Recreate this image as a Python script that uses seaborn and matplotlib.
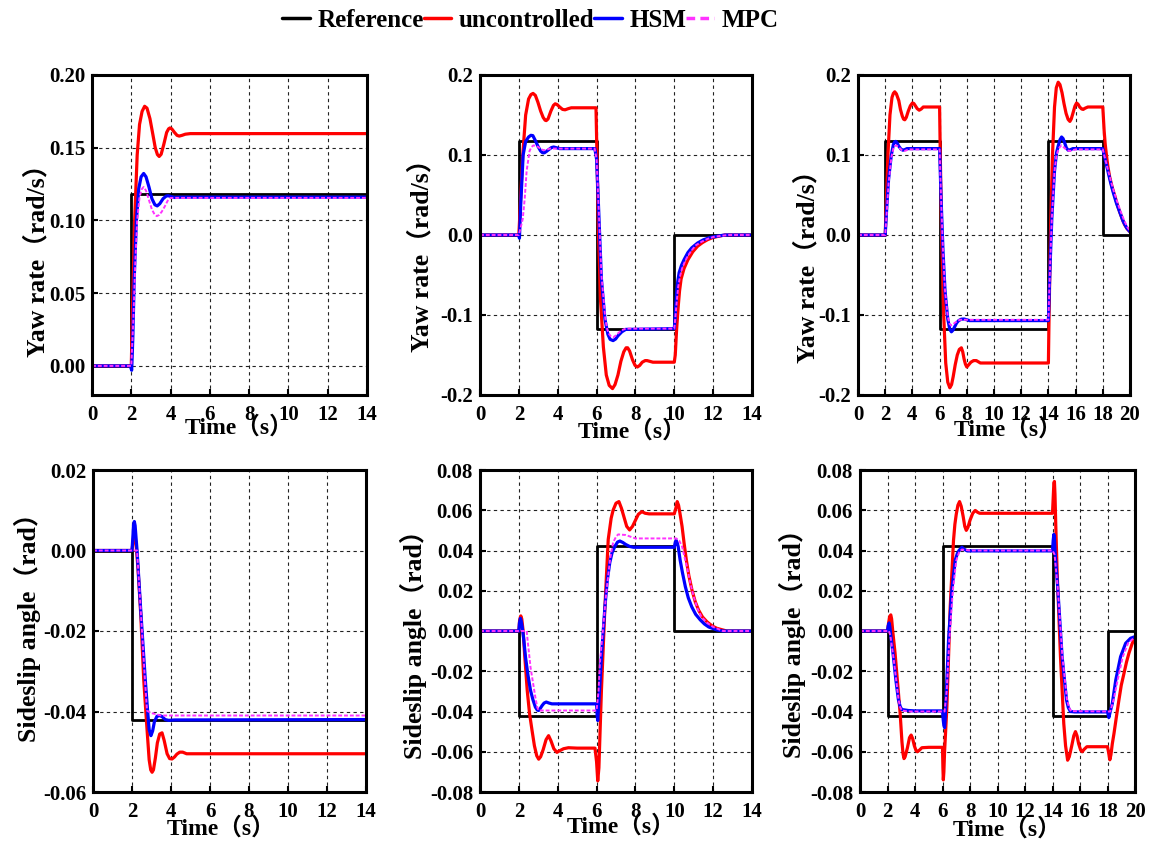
import matplotlib
matplotlib.use("Agg")
import matplotlib.pyplot as plt
from matplotlib.lines import Line2D
from matplotlib.ticker import FormatStrFormatter
import pandas as pd
import seaborn as sns

# ---------------- data (time [s], value) ----------------
SERIES = ["Reference", "uncontrolled", "HSM", "MPC"]

# Panel A: yaw rate, single step
YAW_A_REF = [(0, 0), (2, 0), (2, 0.118), (14, 0.118)]
YAW_A_UNC = [(0, 0), (2.0, 0), (2.08, 0.05), (2.17, 0.10), (2.3, 0.145), (2.42, 0.166), (2.55, 0.175),
             (2.68, 0.1785), (2.8, 0.1772), (2.95, 0.170), (3.1, 0.159), (3.22, 0.150), (3.33, 0.1453),
             (3.42, 0.144), (3.52, 0.1455), (3.65, 0.152), (3.8, 0.1605), (3.9, 0.163), (3.97, 0.1636),
             (4.06, 0.163), (4.2, 0.1605), (4.33, 0.1585), (4.44, 0.158), (4.58, 0.1585), (4.75, 0.1593),
             (5.0, 0.1597), (14, 0.1597)]
YAW_A_HSM = [(0, 0), (1.95, 0), (2.02, -0.003), (2.08, 0.02), (2.15, 0.06), (2.26, 0.10), (2.38, 0.122),
             (2.5, 0.130), (2.63, 0.1323), (2.75, 0.130), (2.9, 0.123), (3.05, 0.115), (3.2, 0.1108),
             (3.32, 0.110), (3.45, 0.1115), (3.62, 0.115), (3.78, 0.1168), (3.88, 0.117), (4.0, 0.1165),
             (4.2, 0.1158), (4.5, 0.116), (14, 0.116)]
YAW_A_MPC = [(0, 0), (2.0, 0), (2.1, 0.03), (2.2, 0.07), (2.3, 0.10), (2.42, 0.116), (2.53, 0.1215),
             (2.63, 0.123), (2.75, 0.1205), (2.9, 0.114), (3.05, 0.1075), (3.2, 0.1038), (3.3, 0.103),
             (3.42, 0.1038), (3.55, 0.106), (3.7, 0.1095), (3.85, 0.1135), (4.0, 0.1155), (14, 0.1155)]

# Panel B: yaw rate, single lane change
YAW_B_REF = [(0, 0), (2, 0), (2, 0.118), (6, 0.118), (6, -0.118), (10, -0.118), (10, 0), (14, 0)]
YAW_B_UNC = [(0, 0), (2, 0), (2.1, 0.05), (2.2, 0.10), (2.35, 0.15), (2.5, 0.17), (2.62, 0.1755),
             (2.73, 0.177), (2.85, 0.1745), (2.98, 0.166), (3.12, 0.155), (3.25, 0.147), (3.35, 0.1435),
             (3.41, 0.143), (3.5, 0.145), (3.65, 0.155), (3.78, 0.162), (3.87, 0.164), (3.97, 0.163),
             (4.1, 0.160), (4.25, 0.157), (4.38, 0.1565), (4.55, 0.158), (4.7, 0.159), (5.97, 0.159),
             (6.02, 0.10), (6.1, 0.0), (6.2, -0.08), (6.35, -0.14), (6.5, -0.175), (6.65, -0.188),
             (6.82, -0.192), (6.95, -0.187), (7.1, -0.175), (7.25, -0.158), (7.4, -0.146), (7.52, -0.141),
             (7.6, -0.141), (7.7, -0.145), (7.85, -0.156), (7.98, -0.163), (8.1, -0.165), (8.22, -0.163),
             (8.35, -0.159), (8.5, -0.157), (8.6, -0.157), (8.75, -0.158), (8.9, -0.159), (10.0, -0.159),
             (10.05, -0.15), (10.12, -0.118), (10.2, -0.09), (10.27, -0.07), (10.35, -0.055), (10.5, -0.042),
             (10.7, -0.031), (10.95, -0.021), (11.2, -0.014), (11.45, -0.0095), (11.7, -0.006),
             (11.95, -0.0035), (12.2, -0.002), (12.6, 0), (14, 0)]
YAW_B_HSM = [(0, 0), (2, 0), (2.03, -0.004), (2.1, 0.04), (2.22, 0.10), (2.35, 0.117), (2.5, 0.1225),
             (2.62, 0.1246), (2.72, 0.1242), (2.85, 0.118), (2.98, 0.111), (3.12, 0.105), (3.22, 0.1028),
             (3.31, 0.1027), (3.42, 0.1045), (3.55, 0.107), (3.68, 0.1093), (3.79, 0.110), (3.92, 0.1092),
             (4.1, 0.108), (5.91, 0.108), (6.0, 0.095), (6.08, 0.048), (6.25, -0.055), (6.43, -0.105),
             (6.58, -0.124), (6.7, -0.1305), (6.85, -0.132), (6.98, -0.130), (7.1, -0.126), (7.3, -0.121),
             (7.5, -0.118), (10.0, -0.117), (10.03, -0.108), (10.07, -0.09), (10.12, -0.072), (10.18, -0.058),
             (10.25, -0.047), (10.37, -0.038), (10.5, -0.031), (10.7, -0.022), (10.9, -0.016), (11.2, -0.010),
             (11.5, -0.006), (11.85, -0.003), (12.2, -0.0015), (12.6, 0), (14, 0)]
YAW_B_MPC = [(0, 0), (2.0, 0), (2.2, 0.02), (2.3, 0.045), (2.4, 0.08), (2.55, 0.105), (2.65, 0.110),
             (2.75, 0.112), (2.87, 0.1115), (3.0, 0.110), (3.15, 0.107), (3.3, 0.106), (3.45, 0.1068),
             (3.6, 0.108), (5.9, 0.108), (6.0, 0.095), (6.08, 0.05), (6.25, -0.05), (6.45, -0.105),
             (6.55, -0.118), (6.65, -0.124), (6.75, -0.127), (6.85, -0.128), (6.97, -0.126), (7.1, -0.123),
             (7.3, -0.119), (7.5, -0.117), (10.0, -0.117), (10.05, -0.105), (10.1, -0.09), (10.2, -0.065),
             (10.3, -0.051), (10.4, -0.042), (10.55, -0.033), (10.7, -0.026), (10.9, -0.019), (11.1, -0.013),
             (11.4, -0.0085), (11.7, -0.005), (12.0, -0.0025), (12.4, -0.001), (12.8, 0), (14, 0)]

# Panel C: yaw rate, double lane change
YAW_C_REF = [(0, 0), (2, 0), (2, 0.118), (6, 0.118), (6, -0.118), (14, -0.118), (14, 0.118), (18, 0.118),
             (18, 0), (20, 0)]
YAW_C_UNC = [(0, 0), (2, 0), (2.1, 0.05), (2.2, 0.1), (2.35, 0.15), (2.5, 0.172), (2.6, 0.177), (2.7, 0.179),
             (2.82, 0.1765), (3.0, 0.168), (3.12, 0.157), (3.25, 0.149), (3.35, 0.1448), (3.44, 0.144),
             (3.55, 0.147), (3.7, 0.155), (3.85, 0.1615), (4.0, 0.165), (4.1, 0.1645), (4.2, 0.162),
             (4.35, 0.158), (4.5, 0.156), (4.65, 0.1575), (4.8, 0.16), (6.0, 0.16), (6.05, 0.1), (6.15, 0.0),
             (6.3, -0.1), (6.45, -0.16), (6.6, -0.184), (6.75, -0.191), (6.88, -0.187), (7.0, -0.177),
             (7.15, -0.162), (7.3, -0.15), (7.45, -0.143), (7.6, -0.141), (7.7, -0.146), (7.8, -0.155),
             (7.9, -0.1615), (8.0, -0.165), (8.15, -0.162), (8.3, -0.159), (8.5, -0.157), (8.7, -0.157),
             (9.0, -0.16), (14.0, -0.16), (14.05, -0.10), (14.15, 0.0), (14.3, 0.1), (14.45, 0.16),
             (14.58, 0.184), (14.72, 0.191), (14.85, 0.188), (15.0, 0.178), (15.15, 0.164), (15.3, 0.152),
             (15.45, 0.1445), (15.58, 0.142), (15.68, 0.145), (15.8, 0.152), (15.95, 0.161), (16.07, 0.165),
             (16.18, 0.1635), (16.3, 0.160), (16.45, 0.1575), (16.56, 0.157), (16.7, 0.1585), (16.9, 0.16),
             (18.0, 0.16), (18.05, 0.145), (18.1, 0.13), (18.18, 0.113), (18.28, 0.098), (18.38, 0.085),
             (18.5, 0.073), (18.7, 0.059), (18.9, 0.048), (19.08, 0.037), (19.26, 0.028), (19.43, 0.02),
             (19.6, 0.013), (19.8, 0.0075), (20.0, 0.004)]
YAW_C_HSM = [(0, 0), (2, 0), (2.1, 0.03), (2.25, 0.07), (2.45, 0.10), (2.6, 0.113), (2.7, 0.1165),
             (2.77, 0.117), (2.88, 0.115), (3.0, 0.111), (3.15, 0.1075), (3.3, 0.106), (3.45, 0.1068),
             (3.6, 0.108), (6.0, 0.108), (6.1, 0.05), (6.25, -0.02), (6.4, -0.07), (6.6, -0.105),
             (6.75, -0.118), (6.87, -0.121), (6.98, -0.119), (7.1, -0.115), (7.25, -0.110), (7.4, -0.107),
             (7.6, -0.1052), (7.8, -0.105), (8.2, -0.107), (14.0, -0.107), (14.1, -0.05), (14.25, 0.02),
             (14.45, 0.08), (14.6, 0.103), (14.7, 0.11), (14.85, 0.119), (14.97, 0.1225), (15.08, 0.1205),
             (15.2, 0.115), (15.32, 0.109), (15.45, 0.106), (15.6, 0.1065), (15.8, 0.108), (18.0, 0.108),
             (18.1, 0.1), (18.25, 0.089), (18.4, 0.078), (18.58, 0.065), (18.77, 0.053), (19.0, 0.04),
             (19.26, 0.028), (19.5, 0.017), (19.75, 0.009), (20.0, 0.004)]
YAW_C_MPC = [(0, 0), (2, 0), (2.1, 0.025), (2.25, 0.065), (2.45, 0.097), (2.6, 0.108), (2.7, 0.111),
             (2.8, 0.112), (2.95, 0.1105), (3.1, 0.108), (3.25, 0.1058), (3.4, 0.105), (3.55, 0.1058),
             (3.7, 0.107), (6.0, 0.107), (6.1, 0.05), (6.25, -0.02), (6.4, -0.07), (6.6, -0.102),
             (6.73, -0.111), (6.85, -0.113), (6.97, -0.112), (7.1, -0.11), (7.3, -0.1075), (7.5, -0.106),
             (14.0, -0.106), (14.1, -0.05), (14.25, 0.02), (14.45, 0.08), (14.6, 0.1), (14.7, 0.105),
             (14.82, 0.1095), (14.95, 0.112), (15.1, 0.110), (15.3, 0.107), (15.45, 0.1055), (15.6, 0.105),
             (16.0, 0.107), (18.0, 0.107), (18.1, 0.1), (18.25, 0.09), (18.4, 0.08), (18.6, 0.067),
             (18.8, 0.055), (19.05, 0.042), (19.3, 0.03), (19.55, 0.019), (19.8, 0.01), (20, 0.005)]

# Panel D: sideslip angle, single step
BETA_D_REF = [(0, 0), (2, 0), (2, -0.042), (14, -0.042)]
BETA_D_UNC = [(0, 0), (2.0, 0), (2.1, 0.004), (2.2, 0.002), (2.3, -0.004), (2.45, -0.016), (2.6, -0.032),
              (2.75, -0.043), (2.88, -0.052), (2.96, -0.0545), (3.03, -0.0551), (3.1, -0.0545), (3.2, -0.0515),
              (3.3, -0.0478), (3.42, -0.0456), (3.54, -0.0453), (3.65, -0.0472), (3.8, -0.0505),
              (3.93, -0.0517), (4.05, -0.0518), (4.18, -0.0513), (4.3, -0.0506), (4.45, -0.0501),
              (4.6, -0.0501), (4.8, -0.0505), (14, -0.0505)]
BETA_D_HSM = [(0, 0), (2.0, 0), (2.04, 0.003), (2.08, 0.0065), (2.12, 0.0072), (2.16, 0.0062), (2.21, 0.003),
              (2.26, 0.0), (2.45, -0.015), (2.68, -0.032), (2.8, -0.0398), (2.88, -0.0445), (2.97, -0.046),
              (3.06, -0.0448), (3.15, -0.0425), (3.28, -0.0412), (3.42, -0.041), (3.55, -0.0413),
              (3.7, -0.042), (3.88, -0.0422), (4.2, -0.0421), (14, -0.042)]
BETA_D_MPC = [(0, 0), (2.26, 0), (2.45, -0.015), (2.65, -0.031), (2.77, -0.0398), (3.0, -0.0404),
              (3.5, -0.041), (14, -0.041)]

# Panel E: sideslip angle, single lane change
BETA_E_REF = [(0, 0), (2, 0), (2, -0.042), (6, -0.042), (6, 0.042), (10, 0.042), (10, 0), (14, 0)]
BETA_E_UNC = [(0, 0), (2.0, 0), (2.04, 0.0055), (2.1, 0.0075), (2.15, 0.006), (2.22, 0.0), (2.3, -0.012),
              (2.43, -0.0295), (2.55, -0.041), (2.68, -0.0495), (2.8, -0.057), (2.92, -0.062), (3.02, -0.0637),
              (3.12, -0.0625), (3.25, -0.059), (3.4, -0.054), (3.53, -0.052), (3.65, -0.0545), (3.8, -0.0585),
              (3.96, -0.0603), (4.1, -0.0595), (4.3, -0.0585), (4.55, -0.058), (5.0, -0.0582), (5.92, -0.0582),
              (6.0, -0.065), (6.06, -0.0745), (6.12, -0.068), (6.18, -0.05), (6.25, -0.0295), (6.43, 0.012),
              (6.6, 0.0455), (6.75, 0.056), (6.85, 0.06), (7.0, 0.0635), (7.15, 0.0643), (7.28, 0.061),
              (7.4, 0.057), (7.55, 0.052), (7.7, 0.0502), (7.85, 0.052), (8.0, 0.055), (8.15, 0.058),
              (8.33, 0.0593), (8.5, 0.0585), (8.7, 0.0582), (10.0, 0.0582), (10.08, 0.061), (10.15, 0.0643),
              (10.22, 0.0625), (10.3, 0.058), (10.4, 0.052), (10.5, 0.044), (10.62, 0.0353), (10.75, 0.0275),
              (10.91, 0.0204), (11.08, 0.0145), (11.25, 0.0104), (11.45, 0.007), (11.68, 0.0046),
              (11.95, 0.0025), (12.2, 0.0013), (12.7, 0), (14, 0)]
BETA_E_HSM = [(0, 0), (2.0, 0), (2.03, 0.004), (2.08, 0.0063), (2.12, 0.005), (2.18, 0.0015), (2.25, -0.004),
              (2.34, -0.0128), (2.47, -0.022), (2.6, -0.0295), (2.72, -0.034), (2.85, -0.0378), (2.95, -0.0393),
              (3.02, -0.0395), (3.1, -0.0385), (3.2, -0.037), (3.3, -0.0358), (3.41, -0.0353), (3.55, -0.0358),
              (3.7, -0.0362), (6.0, -0.0362), (6.03, -0.042), (6.06, -0.0445), (6.12, -0.035), (6.25, -0.0128),
              (6.43, 0.012), (6.55, 0.025), (6.68, 0.034), (6.8, 0.039), (6.94, 0.042), (7.08, 0.0442),
              (7.2, 0.0447), (7.35, 0.044), (7.5, 0.043), (7.7, 0.042), (7.9, 0.0416), (10.0, 0.0416),
              (10.06, 0.0445), (10.1, 0.045), (10.15, 0.0438), (10.2, 0.042), (10.3, 0.0353), (10.42, 0.029),
              (10.57, 0.022), (10.72, 0.0165), (10.9, 0.012), (11.1, 0.0083), (11.34, 0.0055), (11.55, 0.0035),
              (11.77, 0.002), (12.2, 0.0005), (12.5, 0), (14, 0)]
BETA_E_MPC = [(0, 0), (2.4, 0), (2.6, -0.018), (2.85, -0.033), (2.95, -0.038), (3.02, -0.0395),
              (6.0, -0.0395), (6.1, -0.03), (6.17, -0.016), (6.51, 0.02), (6.7, 0.036), (6.85, 0.044),
              (7.0, 0.0468), (7.11, 0.048), (7.5, 0.0477), (8.0, 0.046), (10.1, 0.046), (10.25, 0.045),
              (10.4, 0.042), (10.52, 0.037), (10.65, 0.032), (10.82, 0.024), (11.0, 0.017), (11.2, 0.011),
              (11.4, 0.007), (11.7, 0.004), (12.0, 0.002), (12.5, 0), (14, 0)]

# Panel F: sideslip angle, double lane change
BETA_F_REF = [(0, 0), (2, 0), (2, -0.042), (6, -0.042), (6, 0.042), (14, 0.042), (14, -0.042), (18, -0.042),
              (18, 0), (20, 0)]
BETA_F_UNC = [(0, 0), (2.0, 0), (2.08, 0.004), (2.16, 0.0072), (2.24, 0.008), (2.3, 0.006), (2.38, 0.0),
              (2.55, -0.011), (2.75, -0.027), (2.92, -0.041), (3.05, -0.055), (3.13, -0.061), (3.2, -0.0634),
              (3.28, -0.0625), (3.45, -0.058), (3.6, -0.053), (3.72, -0.0517), (3.83, -0.0535), (3.95, -0.057),
              (4.08, -0.0595), (4.18, -0.060), (4.32, -0.0592), (4.5, -0.058), (5.0, -0.0578), (6.0, -0.0578),
              (6.03, -0.068), (6.06, -0.074), (6.1, -0.07), (6.15, -0.06), (6.32, -0.0376), (6.56, 0.012),
              (6.8, 0.045), (6.9, 0.053), (7.0, 0.058), (7.12, 0.0625), (7.24, 0.0643), (7.36, 0.062),
              (7.5, 0.057), (7.62, 0.052), (7.73, 0.050), (7.85, 0.0515), (8.0, 0.055), (8.2, 0.0585),
              (8.38, 0.0599), (8.55, 0.059), (8.7, 0.0585), (14.0, 0.0585), (14.05, 0.066), (14.1, 0.0735),
              (14.14, 0.0743), (14.18, 0.068), (14.24, 0.052), (14.34, 0.0287), (14.58, -0.0128),
              (14.82, -0.046), (14.95, -0.057), (15.1, -0.0642), (15.22, -0.0625), (15.4, -0.057),
              (15.55, -0.052), (15.67, -0.050), (15.78, -0.052), (15.9, -0.056), (16.05, -0.0592),
              (16.16, -0.060), (16.3, -0.0588), (16.5, -0.0575), (18.0, -0.0575), (18.07, -0.06),
              (18.17, -0.064), (18.25, -0.0615), (18.35, -0.056), (18.47, -0.051), (18.65, -0.0425),
              (18.83, -0.0343), (19.0, -0.027), (19.2, -0.021), (19.38, -0.0155), (19.56, -0.011),
              (19.78, -0.0065), (20.0, -0.003)]
BETA_F_HSM = [(0, 0), (2.0, 0), (2.05, 0.0025), (2.12, 0.004), (2.17, 0.002), (2.22, -0.001), (2.43, -0.0128),
              (2.62, -0.025), (2.79, -0.034), (2.92, -0.0375), (3.04, -0.039), (3.5, -0.0395), (4.0, -0.0397),
              (6.0, -0.0397), (6.05, -0.044), (6.1, -0.047), (6.15, -0.048), (6.2, -0.043), (6.25, -0.035),
              (6.44, -0.0045), (6.68, 0.0204), (6.93, 0.0353), (7.08, 0.0385), (7.2, 0.040), (7.41, 0.0416),
              (7.6, 0.0405), (7.8, 0.0398), (14.0, 0.0398), (14.05, 0.045), (14.1, 0.048), (14.14, 0.046),
              (14.18, 0.04), (14.39, 0.0204), (14.7, -0.0128), (15.02, -0.0343), (15.15, -0.038), (15.3, -0.040),
              (15.6, -0.0402), (18.0, -0.0402), (18.1, -0.043), (18.2, -0.04), (18.35, -0.036), (18.6, -0.0244),
              (18.95, -0.0128), (19.32, -0.0061), (19.68, -0.0036), (20.0, -0.0028)]
BETA_F_MPC = [(0, 0), (2.1, 0), (2.2, -0.002), (2.45, -0.014), (2.8, -0.034), (2.93, -0.038), (3.05, -0.0395),
              (3.5, -0.040), (6.0, -0.040), (6.15, -0.04), (6.3, -0.03), (6.5, -0.004), (6.75, 0.02),
              (7.0, 0.035), (7.2, 0.039), (7.4, 0.0405), (8.0, 0.040), (14.0, 0.040), (14.15, 0.038),
              (14.4, 0.02), (14.72, -0.013), (15.05, -0.034), (15.2, -0.038), (15.35, -0.0398), (18.0, -0.040),
              (18.2, -0.04), (18.45, -0.034), (18.75, -0.024), (19.1, -0.013), (19.5, -0.006), (20.0, -0.003)]

YAW_LABEL = "Yaw rate（rad/s）"
BETA_LABEL = "Sideslip angle（rad）"
TIME_LABEL = "Time（s）"
YAW_A_TICKS = [0.00, 0.05, 0.10, 0.15, 0.20]
YAW_TICKS = [-0.2, -0.1, 0.0, 0.1, 0.2]
BETA_D_TICKS = [-0.06, -0.04, -0.02, 0.00, 0.02]
BETA_TICKS = [-0.08, -0.06, -0.04, -0.02, 0.00, 0.02, 0.04, 0.06, 0.08]
T14_TICKS = list(range(0, 15, 2))
T20_TICKS = list(range(0, 21, 2))

# ---------------- styling ----------------
sns.set_style("ticks")
plt.rcParams["font.family"] = ["Liberation Serif", "Noto Sans CJK SC"]
plt.rcParams["font.weight"] = "bold"
plt.rcParams["axes.unicode_minus"] = False
plt.rcParams["text.color"] = "black"
plt.rcParams["axes.labelcolor"] = "black"
plt.rcParams["xtick.color"] = "black"
plt.rcParams["ytick.color"] = "black"

COLORS = {"Reference": "#000000", "uncontrolled": "#ff0000", "HSM": "#0000ff", "MPC": "#ff33ff"}
WIDTHS = {"Reference": 2.0, "uncontrolled": 2.3, "HSM": 2.3, "MPC": 1.4}
STYLES = {"Reference": "-", "uncontrolled": "-", "HSM": "-", "MPC": (0, (2, 1))}

W, H = 1163, 841
fig = plt.figure(figsize=(W / 100, H / 100), dpi=100)


def frac(left, top, right, bottom):
    return [left / W, 1 - bottom / H, (right - left) / W, (bottom - top) / H]


panels = [
    dict(pos=frac(92, 75, 367, 395), data=[YAW_A_REF, YAW_A_UNC, YAW_A_HSM, YAW_A_MPC], ylim=(-0.02, 0.2),
         yticks=YAW_A_TICKS, yfmt="%.2f", xlim=(0, 14), xticks=T14_TICKS, ylabel=YAW_LABEL,
         ylc=(-0.155, 0.44), xlc=(0.535, -0.066)),
    dict(pos=frac(480, 75, 752, 395), data=[YAW_B_REF, YAW_B_UNC, YAW_B_HSM, YAW_B_MPC], ylim=(-0.2, 0.2),
         yticks=YAW_TICKS, yfmt="%.1f", xlim=(0, 14), xticks=T14_TICKS, ylabel=YAW_LABEL,
         ylc=(-0.17, 0.456), xlc=(0.56, -0.078)),
    dict(pos=frac(858, 75, 1130, 395), data=[YAW_C_REF, YAW_C_UNC, YAW_C_HSM, YAW_C_MPC], ylim=(-0.2, 0.2),
         yticks=YAW_TICKS, yfmt="%.1f", xlim=(0, 20), xticks=T20_TICKS, ylabel=YAW_LABEL,
         ylc=(-0.14, 0.42), xlc=(0.55, -0.072)),
    dict(pos=frac(93, 470, 366, 792), data=[BETA_D_REF, BETA_D_UNC, BETA_D_HSM, BETA_D_MPC], ylim=(-0.06, 0.02),
         yticks=BETA_D_TICKS, yfmt="%.2f", xlim=(0, 14), xticks=T14_TICKS, ylabel=BETA_LABEL,
         ylc=(-0.19, 0.53), xlc=(0.47, -0.078)),
    dict(pos=frac(480, 470, 752, 792), data=[BETA_E_REF, BETA_E_UNC, BETA_E_HSM, BETA_E_MPC], ylim=(-0.08, 0.08),
         yticks=BETA_TICKS, yfmt="%.2f", xlim=(0, 14), xticks=T14_TICKS, ylabel=BETA_LABEL,
         ylc=(-0.195, 0.478), xlc=(0.52, -0.072)),
    dict(pos=frac(860, 470, 1135, 792), data=[BETA_F_REF, BETA_F_UNC, BETA_F_HSM, BETA_F_MPC], ylim=(-0.08, 0.08),
         yticks=BETA_TICKS, yfmt="%.2f", xlim=(0, 20), xticks=T20_TICKS, ylabel=BETA_LABEL,
         ylc=(-0.195, 0.48), xlc=(0.535, -0.081)),
]

for p in panels:
    ax = fig.add_axes(p["pos"])
    for name, pts in zip(SERIES, p["data"]):
        df = pd.DataFrame(pts, columns=["t", "v"])
        sns.lineplot(data=df, x="t", y="v", ax=ax, estimator=None, sort=False, legend=False,
                     color=COLORS[name], linewidth=WIDTHS[name], linestyle=STYLES[name])
    ax.set_xlim(*p["xlim"])
    ax.set_ylim(*p["ylim"])
    ax.set_xticks(p["xticks"])
    ax.set_yticks(p["yticks"])
    ax.yaxis.set_major_formatter(FormatStrFormatter(p["yfmt"]))
    ax.grid(True, color="#222222", linestyle=(0, (3, 3)), linewidth=0.8)
    ax.set_axisbelow(True)
    for s in ax.spines.values():
        s.set_linewidth(2.2)
        s.set_color("black")
    ax.tick_params(axis="both", direction="in", length=4, width=1.5, labelsize=15, colors="black")
    ax.tick_params(axis="x", pad=7)
    ax.tick_params(axis="y", pad=5)
    for lab in ax.get_xticklabels() + ax.get_yticklabels():
        lab.set_fontweight("bold")
    ax.set_ylabel(p["ylabel"], fontsize=18.5, fontweight="bold", color="black")
    ax.set_xlabel(TIME_LABEL, fontsize=17, fontweight="bold", color="black")
    ax.yaxis.set_label_coords(*p["ylc"])
    ax.xaxis.set_label_coords(*p["xlc"])

handles = [Line2D([0], [0], color=COLORS[n], linewidth=2.5,
                  linestyle=(0, (2.5, 1.5)) if n == "MPC" else "-") for n in SERIES]
fig.legend(handles, SERIES, loc="center", bbox_to_anchor=(0.456, 0.976), ncol=4, frameon=False,
           handlelength=1.1, handletextpad=0.3, columnspacing=0.0,
           prop={"weight": "bold", "size": 18, "family": ["Liberation Serif", "Noto Sans CJK SC"]})

fig.savefig("out.png", dpi=100)
